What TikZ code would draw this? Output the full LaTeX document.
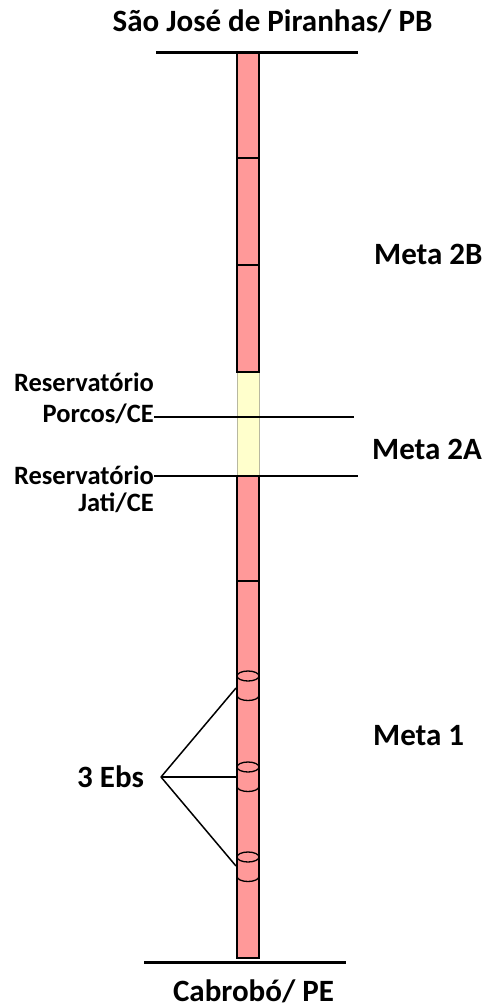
\documentclass[tikz,border=0pt]{standalone}
\usepackage{fontspec}
\setmainfont{Carlito}
\definecolor{pipepink}{HTML}{FF9999}
\definecolor{pipeyellow}{HTML}{FFFFCC}
\definecolor{yellowedge}{HTML}{B8B8A0}
\begin{document}
\begin{tikzpicture}[x=1pt,y=-1pt,
  bigtxt/.style={font=\fontsize{31}{36}\selectfont\bfseries,inner sep=0pt},
  smalltxt/.style={font=\fontsize{26.5}{31}\selectfont\bfseries,inner sep=0pt},
  pinkseg/.style={draw=black,line width=1.8pt,fill=pipepink},
  yellowseg/.style={draw=yellowedge,line width=0.8pt,fill=pipeyellow},
  endline/.style={draw=black,line width=3pt},
  resline/.style={draw=black,line width=2.4pt},
  fanline/.style={draw=black,line width=1.5pt},
  cyl/.style={draw=black,line width=1.3pt,fill=pipepink}
]
\useasboundingbox (0,0) rectangle (488,1007);

% pipe segments
\draw[yellowseg] (237,372) rectangle (259,476);
\draw[pinkseg] (237,52) rectangle (259,158);
\draw[pinkseg] (237,158) rectangle (259,265);
\draw[pinkseg] (237,265) rectangle (259,372);
\draw[pinkseg] (237,476) rectangle (259,581);
\draw[pinkseg] (237,581) rectangle (259,958);

% pumping stations (cylinders)
\foreach \c in {676,767,857}{
  \draw[cyl] (248,\c) ellipse [x radius=11, y radius=5];
  \draw[draw=black,line width=1.3pt] (237,\c+19.5) arc [start angle=180, end angle=0, x radius=11, y radius=5];
}
\coordinate (eb1) at (236,688);
\coordinate (eb2) at (236,777);
\coordinate (eb3) at (236,866);

% labels
\node[bigtxt,anchor=base] (title) at (272.5,31) {São José de Piranhas/ PB};
\node[bigtxt,anchor=base] (cab) at (253.5,1001) {Cabrobó/ PE};
\node[bigtxt,anchor=base west] (m2b) at (374,264) {Meta 2B};
\node[bigtxt,anchor=base west] (m2a) at (372,459) {Meta 2A};
\node[bigtxt,anchor=base west] (m1) at (373,745) {Meta 1};
\node[bigtxt,anchor=base west] (ebs) at (77,787) {3 Ebs};
\node[smalltxt,anchor=base east] (r1a) at (154,391) {Reservatório};
\node[smalltxt,anchor=base east] (r1b) at (154,422) {Porcos/CE};
\node[smalltxt,anchor=base east] (r2a) at (154,484) {Reservatório};
\node[smalltxt,anchor=base east] (r2b) at (154,511) {Jati/CE};

% end lines
\coordinate (t1) at (156,52);
\coordinate (t2) at (358,52);
\coordinate (b1) at (144,962);
\coordinate (b2) at (346,962);
\draw[endline] (t1) -- (t2);
\draw[endline] (b1) -- (b2);

% reservoir lines
\coordinate (p2) at (354,417);
\coordinate (j2) at (358,476);
\draw[resline] (r1b.east |- 0,417) -- (p2);
\draw[resline] (r2a.east |- 0,476) -- (j2);

% fan to pumping stations
\coordinate (apex) at (161,777);
\draw[fanline] (apex) -- (eb1);
\draw[fanline] (apex) -- (eb2);
\draw[fanline] (apex) -- (eb3);
\end{tikzpicture}
\end{document}
